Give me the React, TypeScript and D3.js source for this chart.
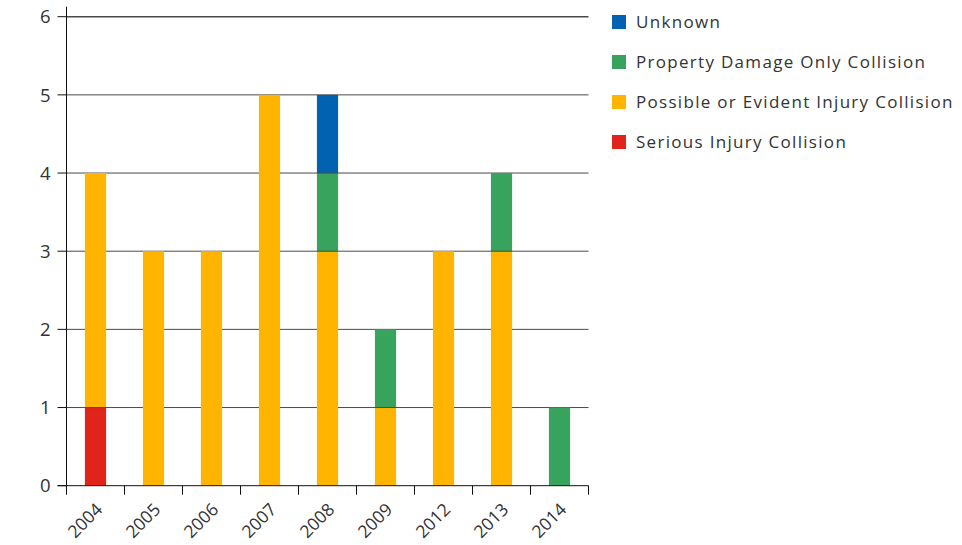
import { useEffect, useRef } from 'react'
import * as d3 from 'd3'

const years = ['2004', '2005', '2006', '2007', '2008', '2009', '2012', '2013', '2014']
const serious = [1, 0, 0, 0, 0, 0, 0, 0, 0]
const possible = [3, 3, 3, 5, 3, 1, 3, 3, 0]
const propertyDamage = [0, 0, 0, 0, 1, 1, 0, 1, 1]
const unknown = [0, 0, 0, 0, 1, 0, 0, 0, 0]

const seriesNames = ['Serious Injury Collision', 'Possible or Evident Injury Collision', 'Property Damage Only Collision', 'Unknown']
const seriesColors = ['#e0231b', '#ffb400', '#38a35c', '#0062b0']
const yTicks = [0, 1, 2, 3, 4, 5, 6]

const FONT = "'Open Sans', 'DejaVu Sans', sans-serif"

export default function App() {
  const svgRef = useRef<SVGSVGElement>(null)

  useEffect(() => {
    if (!svgRef.current) return
    const svg = d3.select(svgRef.current)
    svg.selectAll('*').remove()

    const left = 66.5
    const right = 588.5
    const top = 16.7
    const bottom = 485.7

    const rows = years.map((year, i) => ({
      year,
      s0: serious[i],
      s1: possible[i],
      s2: propertyDamage[i],
      s3: unknown[i],
    }))
    const stack = d3.stack<any>().keys(['s0', 's1', 's2', 's3'])(rows)

    const x = d3.scaleBand().domain(years).range([left, right]).padding(0)
    const y = d3.scaleLinear().domain([0, 6]).range([bottom, top])
    const barW = x.bandwidth() * 0.365

    // gridlines
    svg.append('g')
      .selectAll('line')
      .data(yTicks.filter(t => t > 0))
      .join('line')
      .attr('x1', left)
      .attr('x2', right)
      .attr('y1', d => y(d))
      .attr('y2', d => y(d))
      .attr('stroke', '#4a4a4a')
      .attr('stroke-width', d => (d === 6 ? 1.5 : 1))

    // bars
    svg.append('g')
      .selectAll('g')
      .data(stack)
      .join('g')
      .attr('fill', (_, i) => seriesColors[i])
      .selectAll('rect')
      .data(d => d.filter(p => p[1] > p[0]))
      .join('rect')
      .attr('x', d => (x(d.data.year) || 0) + x.bandwidth() / 2 - barW / 2)
      .attr('y', d => y(d[1]))
      .attr('width', barW)
      .attr('height', d => y(d[0]) - y(d[1]))

    // thin gap between stacked segments shows the gridline
    const joins = stack.flatMap(s => s.filter(p => p[1] > p[0] && p[0] > 0))
    svg.append('g')
      .selectAll('line')
      .data(joins)
      .join('line')
      .attr('x1', d => (x(d.data.year) || 0) + x.bandwidth() / 2 - barW / 2)
      .attr('x2', d => (x(d.data.year) || 0) + x.bandwidth() / 2 + barW / 2)
      .attr('y1', d => y(d[0]))
      .attr('y2', d => y(d[0]))
      .attr('stroke', '#4a4a4a')

    // y axis
    const yAxis = svg.append('g').attr('transform', `translate(${left},0)`)
    yAxis.append('line')
      .attr('x1', 0).attr('x2', 0)
      .attr('y1', top - 10).attr('y2', bottom + 8)
      .attr('stroke', '#111')
    yAxis.selectAll('.tick')
      .data(yTicks)
      .join('line')
      .attr('class', 'tick')
      .attr('x1', -9).attr('x2', 0)
      .attr('y1', d => y(d)).attr('y2', d => y(d))
      .attr('stroke', '#111')
    yAxis.selectAll('text')
      .data(yTicks)
      .join('text')
      .attr('x', -16)
      .attr('y', d => y(d))
      .attr('dy', '0.36em')
      .attr('text-anchor', 'end')
      .attr('font-family', FONT)
      .attr('font-size', 18.5)
      .attr('fill', '#333')
      .text(d => d)

    // x axis
    const xAxis = svg.append('g')
    xAxis.append('line')
      .attr('x1', left - 9).attr('x2', right)
      .attr('y1', bottom).attr('y2', bottom)
      .attr('stroke', '#111')
    const edges = years.map(yr => x(yr) || 0).concat([right])
    xAxis.selectAll('.tick')
      .data(edges)
      .join('line')
      .attr('class', 'tick')
      .attr('x1', d => d).attr('x2', d => d)
      .attr('y1', bottom).attr('y2', bottom + 9)
      .attr('stroke', '#111')
    xAxis.selectAll('text')
      .data(years)
      .join('text')
      .attr('transform', d => `translate(${(x(d) || 0) + x.bandwidth() / 2 + 8},${bottom + 25}) rotate(-45)`)
      .attr('text-anchor', 'end')
      .attr('font-family', FONT)
      .attr('font-size', 17.5)
      .attr('fill', '#333')
      .text(d => d)

    // legend (top to bottom: reverse of stack)
    const legendOrder = [3, 2, 1, 0]
    const legend = svg.append('g').attr('transform', 'translate(612,0)')
    const items = legend.selectAll('g')
      .data(legendOrder)
      .join('g')
      .attr('transform', (_, i) => `translate(0,${22 + i * 40})`)
    items.append('rect')
      .attr('x', 0).attr('y', -7)
      .attr('width', 14).attr('height', 14)
      .attr('fill', d => seriesColors[d])
    items.append('text')
      .attr('x', 24)
      .attr('y', 0)
      .attr('dy', '0.36em')
      .attr('font-family', FONT)
      .attr('font-size', 17)
      .attr('letter-spacing', 1.3)
      .attr('fill', '#333')
      .text(d => seriesNames[d])
  }, [])

  return (
    <svg
      ref={svgRef}
      width={962}
      height={545}
      style={{ position: 'absolute', left: 0, top: 0, background: '#fff' }}
    />
  )
}
